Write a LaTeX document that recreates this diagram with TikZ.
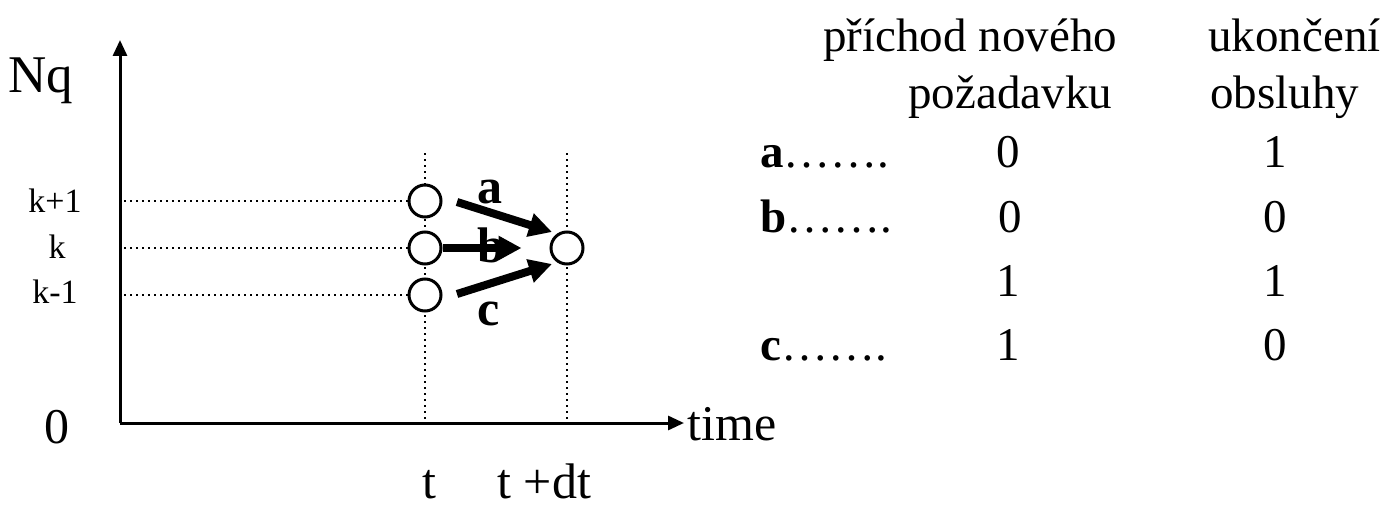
\documentclass[tikz,border=0pt]{standalone}
\usepackage{fontspec}
\setmainfont{Liberation Serif}
\usetikzlibrary{arrows.meta}
\begin{document}
\begin{tikzpicture}[x=0.5pt,y=-0.5pt,
  txt/.style={inner sep=0pt, font=\fontsize{25}{30}\selectfont},
  tab/.style={inner sep=0pt, font=\fontsize{23.5}{28}\selectfont},
  small/.style={inner sep=0pt, font=\fontsize{17}{20}\selectfont},
  lbl/.style={inner sep=0pt, font=\fontsize{25}{30}\selectfont\bfseries},
  axis/.style={line width=1.5pt, -{Triangle[length=8pt,width=7pt]}},
  grid/.style={line width=1pt, dash pattern=on 1pt off 2pt},
  state/.style={circle, draw, line width=1.5pt, minimum size=16pt, inner sep=0pt, fill=white},
  bigarrow/.style={line width=4pt, -{Triangle[length=11.5pt,width=11.5pt]}}]
\path[use as bounding box] (0,0) rectangle (1397,508);
% axes
\coordinate (O) at (120,423);
\coordinate (Ytop) at (120,40);
\coordinate (Xend) at (684,423);
\draw[axis] (O) -- (Ytop);
\draw[axis] (O) -- (Xend);
% vertical dotted time lines
\coordinate (t1top) at (425,153);
\coordinate (t1bot) at (425,423);
\coordinate (t2top) at (567,153);
\coordinate (t2bot) at (567,423);
\draw[grid] (t1top) -- (t1bot);
\draw[grid] (t2top) -- (t2bot);
% states
\node[state] (c1) at (425,201) {};
\node[state] (c2) at (425,248) {};
\node[state] (c3) at (425,295) {};
\node[state] (c4) at (567,248) {};
% horizontal dotted lines
\draw[grid] (c1.west) -- (c1.west -| O);
\draw[grid] (c2.west) -- (c2.west -| O);
\draw[grid] (c3.west) -- (c3.west -| O);
% transition arrows
\coordinate (a0) at (457,202);
\coordinate (a1) at (552,232);
\coordinate (cc0) at (457,294);
\coordinate (cc1) at (552,264);
\draw[bigarrow] (a0) -- (a1);
\draw[bigarrow, shorten >=14pt] (c2) -- (c4);
\draw[bigarrow] (cc0) -- (cc1);
\node[lbl, anchor=base] (la) at (490,203) {a};
\node[lbl, anchor=base] (lb) at (491,262) {b};
\node[lbl, anchor=base] (lc) at (489,325) {c};
% axis labels
\node[txt, anchor=base west, font=\fontsize{26.5}{31}\selectfont] (nq) at (8,93) {Nq};
\node[txt] (zero) at (57,427) {0};
\node[txt, anchor=base west] (time) at (687,440) {time};
\node[small, anchor=base] (kp) at (55,213) {k+1};
\node[small, anchor=base] (k) at (57,258) {k};
\node[small, anchor=base] (km) at (55,303) {k-1};
\node[txt, anchor=base] (t) at (429,498) {t};
\node[txt, anchor=base west] (tdt) at (497,498) {t +dt};
% table
\node[tab, anchor=base west] (h1a) at (823,52) {příchod nového};
\node[tab, anchor=base west] (h1b) at (908,109) {požadavku};
\node[tab, anchor=base west] (h2a) at (1208,52) {ukončení};
\node[tab, anchor=base west] (h2b) at (1210,109) {obsluhy};
\node[tab, anchor=base west] (ra) at (760,168) {\textbf{a}…….};
\node[tab, anchor=base west] (rb) at (760,232) {\textbf{b}…….};
\node[tab, anchor=base west] (rc) at (760,360) {\textbf{c}…….};
\node[tab, anchor=base] (a1v) at (1008,168) {0};
\node[tab, anchor=base] (a2v) at (1275,168) {1};
\node[tab, anchor=base] (b1v) at (1010,232) {0};
\node[tab, anchor=base] (b2v) at (1275,232) {0};
\node[tab, anchor=base] (d1v) at (1008,296) {1};
\node[tab, anchor=base] (d2v) at (1275,296) {1};
\node[tab, anchor=base] (c1v) at (1008,360) {1};
\node[tab, anchor=base] (c2v) at (1275,360) {0};
\end{tikzpicture}
\end{document}
